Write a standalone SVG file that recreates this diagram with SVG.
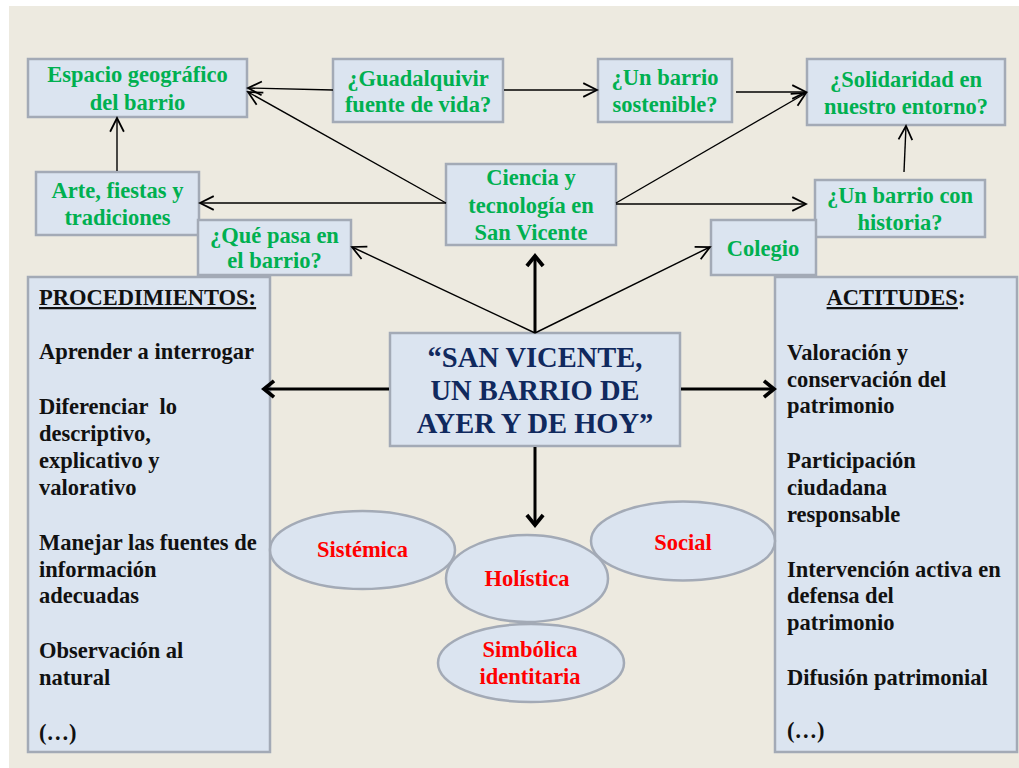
<svg xmlns="http://www.w3.org/2000/svg" width="1019" height="768" viewBox="0 0 1019 768">
<defs>
<style>
.box{fill:#DBE4F0;stroke:#A3AAB6;stroke-width:2.5}
.g{font-family:"Liberation Serif",serif;font-weight:bold;font-size:22.5px;fill:#00B050;text-anchor:middle}
.k{font-family:"Liberation Serif",serif;font-weight:bold;font-size:22.5px;fill:#111}
.r{font-family:"Liberation Serif",serif;font-weight:bold;font-size:22.5px;fill:#FF0000;text-anchor:middle}
.c{font-family:"Liberation Serif",serif;font-weight:bold;font-size:28.5px;fill:#10295E;text-anchor:middle}
.thin{stroke:#000;stroke-width:1.4;fill:none}
.thick{stroke:#000;stroke-width:3;fill:none}
</style>
<marker id="ah" markerUnits="userSpaceOnUse" markerWidth="20" markerHeight="20" viewBox="-12 -8 14 16" refX="0" refY="0" orient="auto">
<path d="M-11,-5.5 L0,0 L-11,5.5" fill="none" stroke="#000" stroke-width="1.4"/>
</marker>
<marker id="ahk" markerUnits="userSpaceOnUse" markerWidth="20" markerHeight="20" viewBox="-12 -8 14 16" refX="0" refY="0" orient="auto">
<path d="M-8,-6.5 L0,0 L-8,6.5" fill="none" stroke="#000" stroke-width="3"/>
</marker>
</defs>
<rect x="0" y="0" width="1019" height="768" fill="#FFFFFF"/>
<rect x="9" y="6" width="1010" height="762" fill="#EDEAE0"/>

<g id="espacio">
<rect class="box" x="28" y="59" width="219" height="58"/>
<text class="g" x="137.5" y="82">Espacio geográfico</text>
<text class="g" x="137.5" y="110">del barrio</text>
</g>
<g id="guadalquivir">
<rect class="box" x="333" y="59" width="170" height="63"/>
<text class="g" x="418" y="86">¿Guadalquivir</text>
<text class="g" x="418" y="112">fuente de vida?</text>
</g>
<g id="sostenible">
<rect class="box" x="598" y="59" width="134" height="63"/>
<text class="g" x="665" y="85">¿Un barrio</text>
<text class="g" x="665" y="112">sostenible?</text>
</g>
<g id="solidaridad">
<rect class="box" x="807" y="59" width="198" height="66"/>
<text class="g" x="906" y="87">¿Solidaridad en</text>
<text class="g" x="906" y="114">nuestro entorno?</text>
</g>
<g id="arte">
<rect class="box" x="36" y="172" width="163" height="63"/>
<text class="g" x="117.5" y="198">Arte, fiestas y</text>
<text class="g" x="117.5" y="225">tradiciones</text>
</g>
<g id="quepasa">
<rect class="box" x="198" y="220" width="153" height="55"/>
<text class="g" x="274.5" y="243">¿Qué pasa en</text>
<text class="g" x="274.5" y="268">el barrio?</text>
</g>
<g id="ciencia">
<rect class="box" x="446" y="164" width="170" height="81"/>
<text class="g" x="531" y="185">Ciencia y</text>
<text class="g" x="531" y="213">tecnología en</text>
<text class="g" x="531" y="240">San Vicente</text>
</g>
<g id="historia">
<rect class="box" x="815" y="180" width="170" height="57"/>
<text class="g" x="900" y="203">¿Un barrio con</text>
<text class="g" x="900" y="230">historia?</text>
</g>
<g id="colegio">
<rect class="box" x="711" y="220" width="105" height="55"/>
<text class="g" x="763" y="256">Colegio</text>
</g>

<g id="procedimientos">
<rect class="box" x="28" y="277" width="242" height="475"/>
<text class="k" x="39" y="305" text-decoration="underline">PROCEDIMIENTOS:</text>
<text class="k" x="39" y="359">Aprender a interrogar</text>
<text class="k" x="39" y="414" xml:space="preserve">Diferenciar  lo</text>
<text class="k" x="39" y="441">descriptivo,</text>
<text class="k" x="39" y="468">explicativo y</text>
<text class="k" x="39" y="495">valorativo</text>
<text class="k" x="39" y="550">Manejar las fuentes de</text>
<text class="k" x="39" y="577">información</text>
<text class="k" x="39" y="603">adecuadas</text>
<text class="k" x="39" y="658">Observación al</text>
<text class="k" x="39" y="685">natural</text>
<text class="k" x="39" y="740">(…)</text>
</g>

<g id="actitudes">
<rect class="box" x="775" y="277" width="242" height="475"/>
<text class="k" x="896" y="305" text-anchor="middle"><tspan text-decoration="underline">ACTITUDES</tspan>:</text>
<text class="k" x="787" y="360">Valoración y</text>
<text class="k" x="787" y="387">conservación del</text>
<text class="k" x="787" y="413">patrimonio</text>
<text class="k" x="787" y="468">Participación</text>
<text class="k" x="787" y="495">ciudadana</text>
<text class="k" x="787" y="522">responsable</text>
<text class="k" x="787" y="577">Intervención activa en</text>
<text class="k" x="787" y="603">defensa del</text>
<text class="k" x="787" y="630">patrimonio</text>
<text class="k" x="787" y="685">Difusión patrimonial</text>
<text class="k" x="787" y="738">(…)</text>
</g>

<g id="centro">
<rect class="box" x="390" y="333" width="290" height="113"/>
<text class="c" x="535" y="367">“SAN VICENTE,</text>
<text class="c" x="535" y="400">UN BARRIO DE</text>
<text class="c" x="535" y="433">AYER Y DE HOY”</text>
</g>

<g id="sistemica">
<ellipse class="box" cx="362.5" cy="550" rx="92.5" ry="39"/>
<text class="r" x="362.5" y="557">Sistémica</text>
</g>
<g id="social">
<ellipse class="box" cx="683" cy="541" rx="92" ry="39.5"/>
<text class="r" x="683" y="550">Social</text>
</g>
<g id="holistica">
<ellipse class="box" cx="527" cy="578.5" rx="81" ry="43.5"/>
<text class="r" x="527" y="586">Holística</text>
</g>
<g id="simbolica">
<ellipse class="box" cx="531" cy="663" rx="93" ry="39"/>
<text class="r" x="530" y="657">Simbólica</text>
<text class="r" x="530" y="684">identitaria</text>
</g>

<g id="connectors">
<line class="thin" x1="333" y1="90" x2="248" y2="88" marker-end="url(#ah)"/>
<line class="thin" x1="446" y1="203" x2="248" y2="92" marker-end="url(#ah)"/>
<line class="thin" x1="446" y1="203" x2="200" y2="203" marker-end="url(#ah)"/>
<line class="thin" x1="117" y1="171" x2="117" y2="118" marker-end="url(#ah)"/>
<line class="thin" x1="504" y1="90" x2="597" y2="90" marker-end="url(#ah)"/>
<line class="thin" x1="736" y1="92" x2="806" y2="92" marker-end="url(#ah)"/>
<line class="thin" x1="616" y1="203" x2="806" y2="93" marker-end="url(#ah)"/>
<line class="thin" x1="616" y1="204" x2="806" y2="204" marker-end="url(#ah)"/>
<line class="thin" x1="904" y1="172" x2="906" y2="126" marker-end="url(#ah)"/>
<line class="thin" x1="535" y1="333" x2="352" y2="247" marker-end="url(#ah)"/>
<line class="thin" x1="535" y1="333" x2="710" y2="247" marker-end="url(#ah)"/>
<line class="thick" x1="535" y1="332" x2="535" y2="256" marker-end="url(#ahk)"/>
<line class="thick" x1="389" y1="389" x2="264" y2="389" marker-end="url(#ahk)"/>
<line class="thick" x1="681" y1="389" x2="774" y2="389" marker-end="url(#ahk)"/>
<line class="thick" x1="535" y1="447" x2="535" y2="525" marker-end="url(#ahk)"/>
</g>
</svg>
